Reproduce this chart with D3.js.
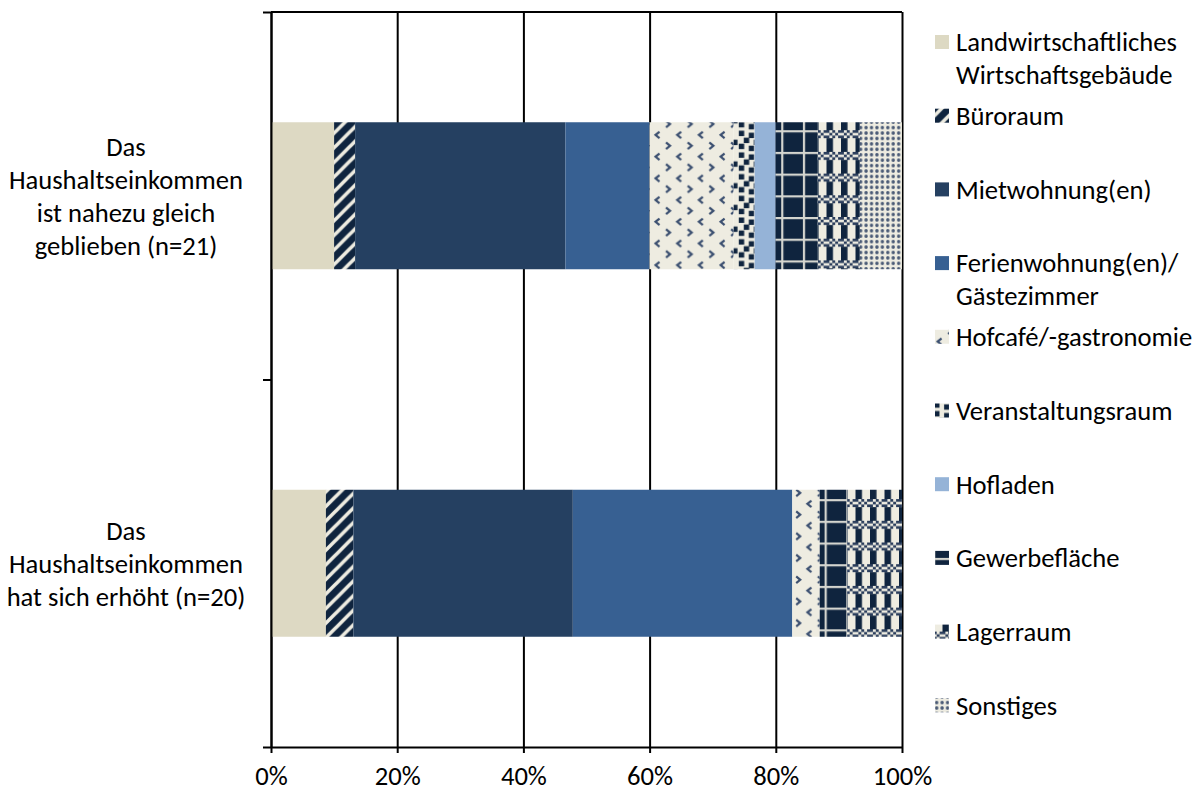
<!DOCTYPE html>
<html><head><meta charset="utf-8">
<script src="https://cdn.jsdelivr.net/npm/d3@7"></script>
<style>html,body{margin:0;padding:0;background:#fff;} svg{display:block;}</style>
</head><body>
<svg id="chart" width="1195" height="791"></svg>
<script>
// ---------- DATA ----------
const categories = [
  "Das\nHaushaltseinkommen\nist nahezu gleich\ngeblieben (n=21)",
  "Das\nHaushaltseinkommen\nhat sich erhöht (n=20)"
];
const seriesNames = [
  "Landwirtschaftliches\nWirtschaftsgebäude",
  "Büroraum",
  "Mietwohnung(en)",
  "Ferienwohnung(en)/\nGästezimmer",
  "Hofcafé/-gastronomie",
  "Veranstaltungsraum",
  "Hofladen",
  "Gewerbefläche",
  "Lagerraum",
  "Sonstiges"
];
const landwirtschaftliches = [10.0, 8.70];
const bueroraum            = [3.33, 4.35];
const mietwohnung          = [33.33, 34.78];
const ferienwohnung        = [13.33, 34.78];
const hofcafe              = [13.33, 4.35];
const veranstaltungsraum   = [3.33, 0];
const hofladen             = [3.33, 0];
const gewerbeflaeche       = [6.67, 4.35];
const lagerraum            = [6.67, 8.70];
const sonstiges            = [6.67, 0];
const xTickValues = [0, 20, 40, 60, 80, 100];
const xTickLabels = ["0%", "20%", "40%", "60%", "80%", "100%"];

const seriesValues = [landwirtschaftliches, bueroraum, mietwohnung, ferienwohnung, hofcafe,
  veranstaltungsraum, hofladen, gewerbeflaeche, lagerraum, sonstiges];

// ---------- STYLE / LAYOUT ----------
const plotLeft = 271, plotRight = 902, plotTop = 12, plotBottom = 747;
const NAVY = "#0F243E", CREAM = "#EEECE1";
const fills = ["#DDD9C3", "url(#p-buero)", "#254061", "#376092", "url(#p-hofcafe)",
  "url(#p-veranst)", "#95B3D7", "url(#p-gewerbe)", "url(#p-lager)", "url(#p-sonst)"];

const svg = d3.select("#chart");
const FAMILY = "Calibri, Carlito, Lato, 'DejaVu Sans', sans-serif";
const probe = svg.append("text").attr("font-family", FAMILY).attr("font-size", 100).text("Landwirtschaftliches");
const w100 = probe.node().getComputedTextLength();
probe.remove();
const FS = 100 * 221 / w100;

// ---------- PATTERNS ----------
const defs = svg.append("defs");
const T = 21.7;
function pat(id, w, h) {
  return defs.append("pattern").attr("id", id).attr("patternUnits", "userSpaceOnUse")
    .attr("width", w).attr("height", h);
}
{ // Büroraum: wide upward diagonal
  const P = 14.6, p = pat("p-buero", P, P);
  p.append("rect").attr("width", P).attr("height", P).attr("fill", NAVY);
  p.append("path").attr("d", `M0,${P} L${P},0 M${-P/2},${P/2} L${P/2},${-P/2} M${P/2},${1.5*P} L${1.5*P},${P/2}`)
    .attr("stroke", CREAM).attr("stroke-width", 3.6);
}
{ // Hofcafé: chevrons
  const p = pat("p-hofcafe", T, T);
  p.append("rect").attr("width", T).attr("height", T).attr("fill", CREAM);
  p.append("path").attr("d", "M8.5,1.5 L4.5,4.8 L8.5,8.1 M15,12.3 L19,15.6 L15,18.9")
    .attr("fill", "none").attr("stroke", "#3b4f70").attr("stroke-width", 2.2);
}
{ // Veranstaltungsraum: scattered squares
  const p = pat("p-veranst", T, T);
  p.append("rect").attr("width", T).attr("height", T).attr("fill", CREAM);
  [[1,0.5],[11,2.5],[6,7.5],[16,9.5],[1,13.5],[11,15.5]].forEach(([a,b]) =>
    p.append("rect").attr("x", a).attr("y", b).attr("width", 5.4).attr("height", 5.4).attr("fill", NAVY));
}
{ // Gewerbefläche: grid on navy
  const p = pat("p-gewerbe", T, T);
  p.append("rect").attr("width", T).attr("height", T).attr("fill", NAVY);
  p.append("rect").attr("width", T).attr("height", 2.2).attr("fill", "#d4d5cf");
  p.append("rect").attr("width", 2.2).attr("height", T).attr("fill", "#d4d5cf");
}
{ // Lagerraum: columns + checker band
  const LW = 14.5, p = pat("p-lager", LW, T);
  p.append("rect").attr("width", LW).attr("height", T).attr("fill", CREAM);
  p.append("rect").attr("x", 0).attr("width", 6.5).attr("height", T).attr("fill", NAVY);
  const cw = LW / 5, ch = 8 / 3;
  p.append("rect").attr("width", LW).attr("height", 8).attr("fill", CREAM);
  for (let r = 0; r < 3; r++) for (let c = 0; c < 5; c++) if ((r + c) % 2 === 0)
    p.append("rect").attr("x", c * cw).attr("y", r * ch).attr("width", cw).attr("height", ch).attr("fill", "#2a3d5c");
}
{ // Sonstiges: dots
  const S = 5.43, p = pat("p-sonst", S, S);
  p.append("rect").attr("width", S).attr("height", S).attr("fill", CREAM);
  p.append("circle").attr("cx", S/2).attr("cy", S/2).attr("r", 1.7).attr("fill", "#4a5a76");
}

// ---------- SCALES ----------
const x = d3.scaleLinear().domain([0, 100]).range([plotLeft, plotRight]);
const y = d3.scaleBand().domain(categories).range([plotTop, plotBottom]).paddingInner(0.6).paddingOuter(0.3);
const yEdge = d3.scaleLinear().domain([0, categories.length]).range([plotTop, plotBottom]);

// gridlines
const grid = svg.append("g").attr("transform", `translate(0,${plotBottom})`)
  .call(d3.axisBottom(x).tickValues(xTickValues).tickSize(-(plotBottom - plotTop)).tickFormat(""));
grid.select(".domain").remove();
grid.selectAll("line").attr("stroke", "#000").attr("stroke-width", 2);

// plot top border
svg.append("line").attr("x1", x(0)).attr("x2", x(100)).attr("y1", plotTop).attr("y2", plotTop)
  .attr("stroke", "#000").attr("stroke-width", 2);

// ---------- BARS ----------
const keys = seriesNames.map((_, i) => "s" + i);
const rows = categories.map((c, ci) => {
  const r = { cat: c };
  seriesValues.forEach((arr, si) => r["s" + si] = arr[ci]);
  return r;
});
const stacked = d3.stack().keys(keys)(rows);
svg.append("g").selectAll("g").data(stacked).join("g")
  .attr("fill", (d, i) => fills[i])
  .selectAll("rect").data(d => d).join("rect")
  .attr("x", d => x(d[0]))
  .attr("width", d => Math.max(0, x(d[1]) - x(d[0])))
  .attr("y", d => y(d.data.cat))
  .attr("height", y.bandwidth());

// ---------- AXES ----------
const xa = svg.append("g").attr("transform", `translate(0,${plotBottom})`)
  .call(d3.axisBottom(x).tickValues(xTickValues).tickSize(6).tickSizeOuter(0)
    .tickFormat((d, i) => xTickLabels[i]));
xa.select(".domain").attr("stroke", "#000").attr("stroke-width", 2);
xa.selectAll("line").attr("stroke", "#000").attr("stroke-width", 2);
xa.selectAll("text").attr("font-family", FAMILY).attr("font-size", FS).attr("fill", "#000")
  .attr("y", 29).attr("dy", "0.35em");

const ya = svg.append("g").attr("transform", `translate(${plotLeft},0)`)
  .call(d3.axisLeft(yEdge).tickValues(d3.range(categories.length + 1)).tickSize(8).tickSizeOuter(0).tickFormat(""));
ya.select(".domain").attr("stroke", "#000").attr("stroke-width", 2);
ya.selectAll("line").attr("stroke", "#000").attr("stroke-width", 2);

// category labels
const LH = 33;
svg.append("g").selectAll("text").data(categories).join("text")
  .attr("font-family", FAMILY).attr("font-size", FS).attr("fill", "#000")
  .attr("text-anchor", "middle")
  .each(function (c) {
    const lines = c.split("\n");
    const cy = y(c) + y.bandwidth() / 2;
    d3.select(this).selectAll("tspan").data(lines).join("tspan")
      .attr("x", 126)
      .attr("y", (l, i) => cy + (i - (lines.length - 1) / 2) * LH)
      .attr("dy", "0.35em")
      .text(l => l);
  });

// ---------- LEGEND ----------
const legY0 = 42, legStep = 73.7, legLH = 32.5;
const leg = svg.append("g").selectAll("g").data(seriesNames).join("g")
  .attr("transform", (d, i) => `translate(0,${legY0 + i * legStep})`);
leg.append("rect").attr("x", 935).attr("y", -7).attr("width", 14).attr("height", 14)
  .attr("fill", (d, i) => fills[i]);
leg.append("text").attr("font-family", FAMILY).attr("font-size", FS).attr("fill", "#000")
  .each(function (n) {
    d3.select(this).selectAll("tspan").data(n.split("\n")).join("tspan")
      .attr("x", 956).attr("y", (l, i) => i * legLH).attr("dy", "0.35em").text(l => l);
  });
</script>
</body></html>
